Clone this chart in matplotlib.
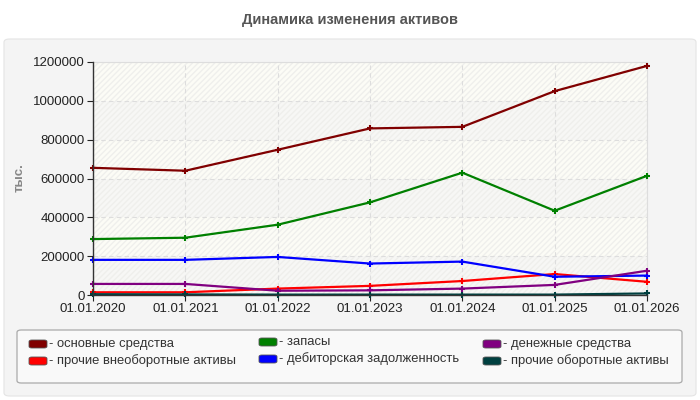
import matplotlib
matplotlib.use("Agg")
import matplotlib.pyplot as plt
from matplotlib.patches import FancyBboxPatch, Rectangle

plt.rcParams['font.family'] = ['Liberation Sans', 'DejaVu Sans']

dates = ["01.01.2020", "01.01.2021", "01.01.2022", "01.01.2023",
         "01.01.2024", "01.01.2025", "01.01.2026"]
osnovnye = [655000, 640000, 748000, 858000, 866000, 1050000, 1180000]
prochie_vneob = [14000, 14000, 33000, 47000, 72000, 108000, 68000]
zapasy = [288000, 295000, 362000, 477000, 630000, 434000, 614000]
debitor = [181000, 181000, 196000, 162000, 172000, 94000, 100000]
denezhnye = [57000, 57000, 22000, 24000, 33000, 52000, 125000]
prochie_ob = [4000, 3000, 2000, 2000, 2000, 2000, 8000]

series = [
    ("- основные средства", osnovnye, "#800000"),
    ("- прочие внеоборотные активы", prochie_vneob, "#ff0000"),
    ("- запасы", zapasy, "#008000"),
    ("- дебиторская задолженность", debitor, "#0000ff"),
    ("- денежные средства", denezhnye, "#800080"),
    ("- прочие оборотные активы", prochie_ob, "#004040"),
]
yticks = [0, 200000, 400000, 600000, 800000, 1000000, 1200000]

fig = plt.figure(figsize=(7, 4), dpi=100)
fig.patch.set_facecolor("white")

# grey panel
panel = FancyBboxPatch((4/700, 4/400), 692/700, 357/400,
                       boxstyle="round,pad=0,rounding_size=0.008",
                       transform=fig.transFigure, facecolor="#f4f4f4",
                       edgecolor="#e4e4e4", linewidth=0.8, zorder=-10)
fig.patches.append(panel)

fig.text(0.5, 1 - 20/400, "Динамика изменения активов", ha="center", va="center",
         fontsize=10.5, fontweight="bold", color="#555555")

ax = fig.add_axes([93/700, 1 - 295/400, (647 - 93)/700, (295 - 62)/400])
ax.set_zorder(5)
ax.set_facecolor("#fcfcf7")
x = list(range(len(dates)))
ax.set_xlim(0, len(dates) - 1)
ax.set_ylim(0, 1200000)

for i in range(len(yticks) - 1):
    col = "#f7f7f5" if i % 2 == 0 else "#fcfcf6"
    ax.add_patch(Rectangle((0, yticks[i]), len(dates) - 1, yticks[i + 1] - yticks[i],
                           facecolor=col, edgecolor="#efefec", hatch="//////",
                           linewidth=0, zorder=0))

ax.grid(True, color="#dddddd", linestyle=(0, (4, 3)), linewidth=0.8, zorder=1)
ax.set_axisbelow(True)

for label, vals, color in series:
    ax.plot(x, vals, color=color, linewidth=1.6, marker="+", markersize=5,
            markeredgewidth=1.5, zorder=3, clip_on=False)

ax.set_xticks(x)
ax.set_xticklabels(dates)
ax.set_yticks(yticks)
ax.set_yticklabels([str(v) for v in yticks])
ax.tick_params(axis="both", labelsize=9.5, colors="#222222", length=4, width=0.8, pad=2)
for s in ["left", "bottom"]:
    ax.spines[s].set_color("#333333")
    ax.spines[s].set_linewidth(1.0)
    ax.spines[s].set_zorder(4)
for s in ["top", "right"]:
    ax.spines[s].set_color("#dddddd")
    ax.spines[s].set_linewidth(0.8)

fig.text(20/700, 1 - 178/400, "тыс.", rotation=90, ha="center", va="center",
         fontsize=9.5, fontweight="bold", color="#888888")

# legend box
lb = FancyBboxPatch((17/700, 1 - 383/400), (682 - 17)/700, (383 - 330)/400,
                    boxstyle="round,pad=0,rounding_size=0.006",
                    transform=fig.transFigure, facecolor="#f9f9f9",
                    edgecolor="#aaaaaa", linewidth=0.9, zorder=-5)
fig.patches.append(lb)

cols = [29, 259, 483]
rows = [[344, 361], [342, 359], [344, 361]]
order = [(0, 0), (0, 1), (1, 0), (1, 1), (2, 0), (2, 1)]
for (label, vals, color), (c, r) in zip(series, order):
    xs = cols[c]
    ys = rows[c][r]
    sw = FancyBboxPatch((xs/700, 1 - (ys + 4)/400), 18/700, 8/400,
                        boxstyle="round,pad=0,rounding_size=0.004",
                        transform=fig.transFigure, facecolor=color,
                        edgecolor="#555555", linewidth=0.6, zorder=2)
    fig.patches.append(sw)
    fig.text((xs + 20)/700, 1 - ys/400, label, ha="left", va="center",
             fontsize=9.4, color="#333333", zorder=3)

fig.savefig("out.png", dpi=100, facecolor="white")
